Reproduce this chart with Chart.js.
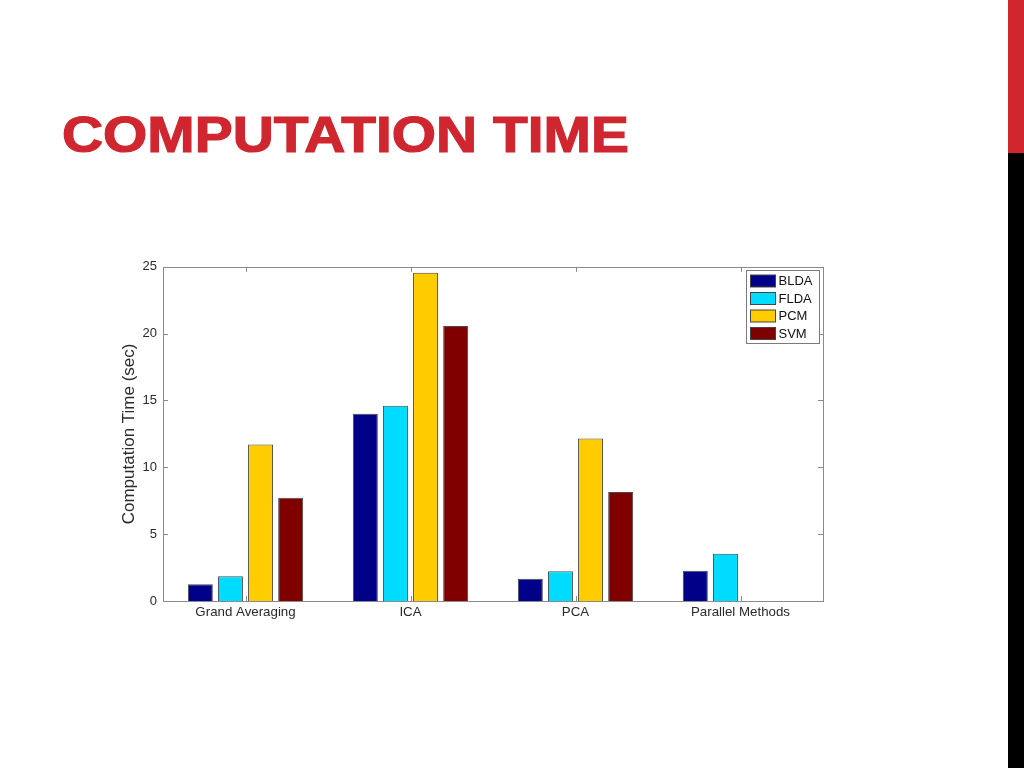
<!DOCTYPE html>
<html>
<head>
<meta charset="utf-8">
<script src="https://cdn.jsdelivr.net/npm/chart.js"></script>
<style>
  html,body{margin:0;padding:0;background:#fff;width:1024px;height:768px;overflow:hidden}
  .title{position:absolute;left:62px;top:110px;margin:0;font:bold 50px/1 "Liberation Sans",Arial,sans-serif;color:#d0262f;
         white-space:nowrap;transform:scaleX(1.138);transform-origin:0 0;-webkit-text-stroke:1.2px #d0262f}
  .stripe-red{position:absolute;left:1008px;top:0;width:16px;height:153px;background:#d2262e}
  .stripe-black{position:absolute;left:1008px;top:153px;width:16px;height:615px;background:#000}
  .chart-wrap{position:absolute;left:100px;top:253px;width:735px;height:377px}
</style>
</head>
<body>
<h1 class="title">COMPUTATION TIME</h1>
<div class="stripe-red"></div>
<div class="stripe-black"></div>
<div class="chart-wrap"><canvas id="c"></canvas></div>
<script>
/* =====  data  ===== */
const categories = ['Grand Averaging', 'ICA', 'PCA', 'Parallel Methods'];
const seriesNames = ['BLDA', 'FLDA', 'PCM', 'SVM'];
const blda = [1.25, 14.0, 1.67, 2.27];
const flda = [1.85, 14.6, 2.22, 3.54];
const pcm  = [11.7, 24.55, 12.15, null];
const svm  = [7.73, 20.58, 8.16, null];
const yTicks = [0, 5, 10, 15, 20, 25];

const colors = ['#000088', '#00dcff', '#ffcc00', '#800000'];
const values = [blda, flda, pcm, svm];
const FONT = '"Liberation Sans", Arial, sans-serif';

/* =====  box, inward ticks and legend (matlab look)  ===== */
const matlabFrame = {
  id: 'matlabFrame',
  afterDatasetsDraw(chart) {
    const {ctx, chartArea: a, scales: {x, y}} = chart;
    ctx.save();
    ctx.strokeStyle = '#8a8a8a';
    ctx.lineWidth = 1;
    ctx.strokeRect(Math.round(a.left) + 0.5, Math.round(a.top) + 0.5, Math.round(a.right - a.left), Math.round(a.bottom - a.top));
    ctx.beginPath();
    const len = 5;
    yTicks.forEach(v => {
      const py = Math.round(y.getPixelForValue(v)) + 0.5;
      ctx.moveTo(a.left, py); ctx.lineTo(a.left + len, py);
      ctx.moveTo(a.right, py); ctx.lineTo(a.right - len, py);
    });
    categories.forEach((c, i) => {
      const px = Math.round(x.getPixelForValue(i)) + 0.5;
      ctx.moveTo(px, a.bottom); ctx.lineTo(px, a.bottom - len);
      ctx.moveTo(px, a.top); ctx.lineTo(px, a.top + len);
    });
    ctx.stroke();

    // legend box in the top-right corner
    const bx = Math.round(a.right) - 76.5, by = Math.round(a.top) + 3.5, bw = 73, bh = 73;
    ctx.fillStyle = '#fff';
    ctx.fillRect(bx, by, bw, bh);
    ctx.strokeStyle = '#7a7a7a';
    ctx.strokeRect(bx, by, bw, bh);
    ctx.font = '13px ' + FONT;
    ctx.textBaseline = 'middle';
    chart.data.datasets.forEach((ds, i) => {
      const ry = by + 4.5 + i * 17.5;
      ctx.fillStyle = ds.backgroundColor;
      ctx.fillRect(bx + 4, ry, 25, 12);
      ctx.strokeStyle = '#444';
      ctx.strokeRect(bx + 4, ry, 25, 12);
      ctx.fillStyle = '#111';
      ctx.fillText(ds.label, bx + 32, ry + 6.5);
    });
    ctx.restore();
  }
};

new Chart(document.getElementById('c'), {
  type: 'bar',
  data: {
    labels: categories,
    datasets: seriesNames.map((n, i) => ({
      label: n,
      data: values[i],
      backgroundColor: colors[i],
      borderColor: '#4a4a4a',
      borderWidth: 1,
      borderSkipped: 'bottom',
      categoryPercentage: 0.73,
      barPercentage: 0.83
    }))
  },
  options: {
    responsive: true,
    maintainAspectRatio: false,
    animation: false,
    layout: {padding: {top: 2, right: 12, left: 0, bottom: 0}},
    plugins: {legend: {display: false}, tooltip: {enabled: false}},
    scales: {
      x: {
        grid: {display: false, drawTicks: false},
        border: {display: false},
        ticks: {padding: 3, color: '#2a2a2a', font: {family: FONT, size: 13.3}, maxRotation: 0},
        afterFit(s) { s.height = 29; }
      },
      y: {
        min: 0, max: 25,
        grid: {display: false, drawTicks: false},
        border: {display: false},
        afterBuildTicks(s) { s.ticks = yTicks.map(v => ({value: v})); },
        ticks: {padding: 6, color: '#2a2a2a', font: {family: FONT, size: 13}},
        title: {
          display: true,
          text: 'Computation Time (sec)',
          color: '#2a2a2a',
          font: {family: FONT, size: 17},
          padding: {top: 19, bottom: 0}
        },
        afterFit(s) { s.width = 63; }
      }
    }
  },
  plugins: [matlabFrame]
});
</script>
</body>
</html>
